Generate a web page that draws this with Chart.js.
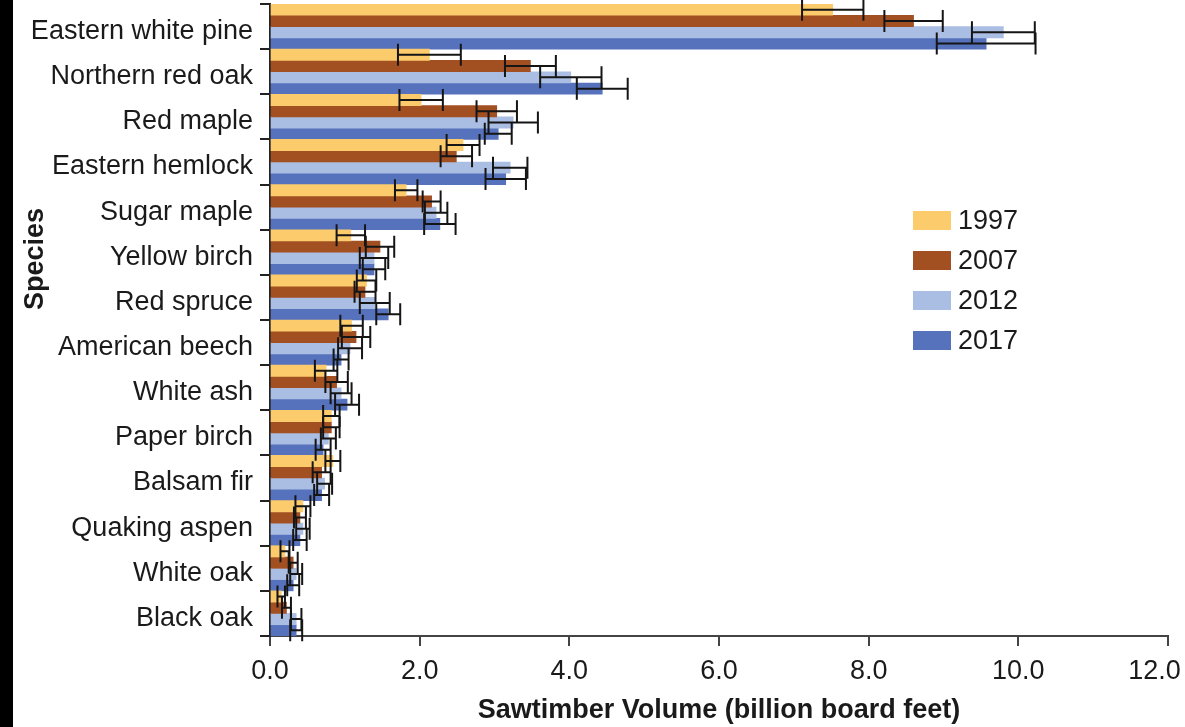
<!DOCTYPE html>
<html>
<head>
<title>Sawtimber volume by species</title>
<script src="https://cdn.jsdelivr.net/npm/chart.js"></script>
<style>
  body { margin: 0; background: #fff; overflow: hidden; font-family: "Liberation Sans", Arial, sans-serif; }
  #wrap { position: absolute; left: 0; top: 0; width: 1185px; height: 727px; }
  #strip { position: absolute; left: 0; top: 0; width: 13px; height: 727px; background: #000; }
  #legend { position: absolute; left: 913px; top: 200px; }
  .item { height: 40px; display: flex; align-items: center; font-size: 27px; color: #1a1a1a; }
  .box { width: 38px; height: 19px; margin-right: 7px; }
</style>
</head>
<body>
<div id="wrap"><canvas id="myChart"></canvas></div>
<div id="strip"></div>
<div id="legend"></div>

<script>
const species = ['Eastern white pine', 'Northern red oak', 'Red maple', 'Eastern hemlock', 'Sugar maple',
  'Yellow birch', 'Red spruce', 'American beech', 'White ash', 'Paper birch', 'Balsam fir',
  'Quaking aspen', 'White oak', 'Black oak'];
const years = ['1997', '2007', '2012', '2017'];

// volume (billion board feet) and error bar half width
const v1997 = [7.52, 2.13, 2.02, 2.58, 1.82, 1.08, 1.29, 1.09, 0.75, 0.82, 0.84, 0.44, 0.20, 0.15];
const e1997 = [0.41, 0.42, 0.29, 0.22, 0.15, 0.19, 0.13, 0.15, 0.15, 0.11, 0.10, 0.10, 0.06, 0.05];
const v2007 = [8.60, 3.48, 3.03, 2.49, 2.16, 1.47, 1.27, 1.15, 0.89, 0.82, 0.69, 0.40, 0.31, 0.22];
const e2007 = [0.39, 0.34, 0.27, 0.21, 0.12, 0.19, 0.14, 0.19, 0.15, 0.11, 0.12, 0.08, 0.06, 0.06];
const v2012 = [9.80, 4.02, 3.25, 3.21, 2.22, 1.39, 1.40, 1.07, 0.95, 0.78, 0.73, 0.44, 0.35, 0.35];
const e2012 = [0.42, 0.41, 0.33, 0.23, 0.15, 0.19, 0.20, 0.16, 0.14, 0.10, 0.10, 0.09, 0.08, 0.07];
const v2017 = [9.57, 4.44, 3.05, 3.15, 2.27, 1.39, 1.58, 0.95, 1.03, 0.71, 0.69, 0.40, 0.31, 0.35];
const e2017 = [0.66, 0.34, 0.18, 0.27, 0.21, 0.15, 0.16, 0.10, 0.16, 0.10, 0.10, 0.09, 0.08, 0.08];

const colors = ['#fccb6b', '#a24f22', '#aabde3', '#5672bd'];
const values = [v1997, v2007, v2012, v2017];
const errors = [e1997, e2007, e2012, e2017];

const FONT = '"Liberation Sans", Arial, sans-serif';
const TEXT = '#1a1a1a';

// error bars on top of all bars, computed through the x scale
const errorBars = {
  id: 'errorBars',
  afterDatasetsDraw(chart) {
    const ctx = chart.ctx;
    const xs = chart.scales.x;
    ctx.save();
    ctx.strokeStyle = '#151515';
    ctx.lineWidth = 2;
    chart.data.datasets.forEach((ds, i) => {
      const meta = chart.getDatasetMeta(i);
      meta.data.forEach((bar, j) => {
        const v = ds.data[j], e = ds.err[j];
        const x0 = xs.getPixelForValue(v - e);
        const x1 = xs.getPixelForValue(v + e);
        const y = bar.y;
        ctx.beginPath();
        ctx.moveTo(x0, y); ctx.lineTo(x1, y);
        ctx.moveTo(x0, y - 11); ctx.lineTo(x0, y + 11);
        ctx.moveTo(x1, y - 11); ctx.lineTo(x1, y + 11);
        ctx.stroke();
      });
    });
    ctx.restore();
  }
};

const yTitle = {
  id: 'yTitle',
  afterDraw(chart) {
    const ctx = chart.ctx;
    ctx.save();
    ctx.translate(36, 259);
    ctx.rotate(-Math.PI / 2);
    ctx.font = 'bold 27px ' + FONT;
    ctx.fillStyle = TEXT;
    ctx.textAlign = 'center';
    ctx.textBaseline = 'middle';
    ctx.fillText('Species', 0, 0);
    ctx.restore();
  }
};

const data = {
  labels: species,
  datasets: years.map((y, i) => ({
    label: y,
    data: values[i],
    err: errors[i],
    backgroundColor: colors[i],
    borderWidth: 0,
    categoryPercentage: 1.0,
    barPercentage: 1.0
  }))
};

const config = {
  type: 'bar',
  data: data,
  options: {
    indexAxis: 'y',
    responsive: true,
    maintainAspectRatio: false,
    animation: false,
    layout: { padding: { top: 4, right: 17, left: 0, bottom: 0 } },
    plugins: { legend: { display: false }, tooltip: { enabled: false } },
    scales: {
      x: {
        min: 0, max: 12,
        ticks: {
          stepSize: 2,
          color: TEXT,
          padding: 9,
          font: { family: FONT, size: 27 },
          // last label sits a little left of its tick, as in the original
          callback: v => v === 12 ? v.toFixed(1) + '\u2002\u2002' : v.toFixed(1)
        },
        grid: { drawOnChartArea: false, drawTicks: true, tickLength: 10, color: '#444', lineWidth: 2 },
        border: { color: '#444', width: 2 },
        title: {
          display: true,
          text: 'Sawtimber Volume (billion board feet)',
          color: TEXT,
          font: { family: FONT, size: 27, weight: 'bold', lineHeight: 1.2 },
          padding: { top: 0, bottom: 0 }
        },
        afterFit(scale) {
          scale.height = 91;
          scale.paddingLeft = 0;
          scale.paddingRight = 0;
        }
      },
      y: {
        ticks: {
          color: TEXT,
          padding: 7,
          labelOffset: 5,
          font: { family: FONT, size: 27 }
        },
        grid: { drawOnChartArea: false, drawTicks: true, tickLength: 10, color: '#222', lineWidth: 2 },
        border: { color: '#222', width: 2 },
        afterFit(scale) {
          scale.width = 270;
          scale.paddingTop = 0;
          scale.paddingBottom = 0;
        }
      }
    }
  },
  plugins: [errorBars, yTitle]
};

const myChart = new Chart(document.getElementById('myChart'), config);

// legend
const legend = document.getElementById('legend');
years.forEach((y, i) => {
  const item = document.createElement('div');
  item.className = 'item';
  item.innerHTML = '<div class="box" style="background:' + colors[i] + '"></div>' + y;
  legend.appendChild(item);
});
</script>
</body>
</html>
